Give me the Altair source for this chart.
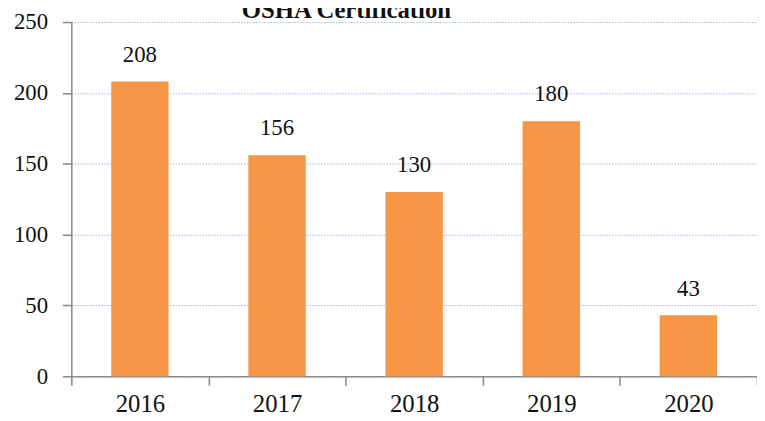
import altair as alt
import pandas as pd

years = ["2016", "2017", "2018", "2019", "2020"]
counts = [208, 156, 130, 180, 43]
y_ticks = [0, 50, 100, 150, 200, 250]
title_text = "OSHA Certification"

df = pd.DataFrame({"year": years, "count": counts})
title_df = pd.DataFrame({"t": [title_text]})

serif = "Liberation Serif"

base = alt.Chart(df).encode(
    x=alt.X(
        "year:N",
        sort=years,
        title=None,
        scale=alt.Scale(paddingInner=0, paddingOuter=0),
        axis=alt.Axis(
            labelAngle=0,
            labelFont=serif,
            labelFontSize=25,
            labelColor="#111111",
            labelPadding=7,
            domainColor="#8c8c8c",
            domainWidth=1.6,
            tickColor="#8c8c8c",
            tickWidth=1.6,
            tickSize=9,
            tickBand="extent",
            grid=False,
        ),
    ),
    y=alt.Y(
        "count:Q",
        title=None,
        scale=alt.Scale(domain=[0, 250], nice=False),
        axis=alt.Axis(
            values=y_ticks,
            labelFont=serif,
            labelFontSize=23,
            labelColor="#111111",
            labelPadding=15,
            domainColor="#8c8c8c",
            domainWidth=1.6,
            tickColor="#8c8c8c",
            tickWidth=1.6,
            tickSize=9,
            grid=True,
            gridColor="#9fb5e3",
            gridDash=[1.5, 1.5],
            gridWidth=1,
        ),
    ),
)

bars = base.mark_bar(color="#F79646", size=58)
labels = base.mark_text(
    font=serif, fontSize=23, color="#111111", baseline="alphabetic", dy=-20
).encode(text="count:Q")

# Chart title (partly cut off at the top, as in the reference)
title_mark = alt.Chart(title_df).mark_text(
    font=serif, fontSize=25, fontWeight="bold", color="#111111",
    align="center", baseline="alphabetic",
).encode(x=alt.value(278), y=alt.value(-4), text="t:N")

chart = (
    alt.layer(bars, labels, title_mark)
    .properties(
        width=693,
        height=358,
        autosize=alt.AutoSizeParams(type="none"),
        padding={"left": 64, "top": 12, "right": 0, "bottom": 43},
    )
    .configure_view(stroke=None)
)

chart.save("out.html", embed_options={"renderer": "svg", "actions": False})
